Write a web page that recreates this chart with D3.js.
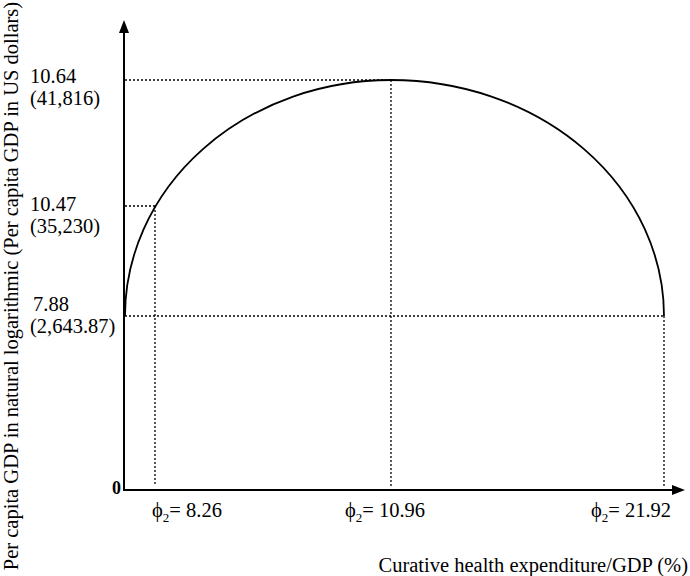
<!DOCTYPE html>
<html><head><meta charset="utf-8">
<script src="https://cdn.jsdelivr.net/npm/d3@7"></script>
<style>body{margin:0;background:#fff}svg{display:block}text{font-family:"Liberation Serif","Times New Roman",serif;fill:#000}</style>
</head><body>
<script>
// Data
const phiValues = [8.26, 10.96, 21.92];          // phi_2 thresholds on x axis
const lnGdpValues = [7.88, 10.47, 10.64];        // ln per capita GDP
const usdLabels = ["(2,643.87)", "(35,230)", "(41,816)"];
const curvePoints = [                            // key points of the curve [phi, lnGDP]
  [0, 7.88], [8.26, 10.47], [10.96, 10.64], [21.92, 7.88]
];
const xTitle = "Curative health expenditure/GDP (%)";
const yTitle = "Per capita GDP in natural logarithmic (Per capita GDP in US dollars)";

const W = 690, H = 576;
const FS = 20.5;
const svg = d3.select("body").append("svg").attr("width", W).attr("height", H);

// schematic (piecewise) scales
const x = d3.scaleLinear().domain([0, 8.26, 10.96, 21.92]).range([125, 155, 391, 664]);
const y = d3.scaleLinear().domain([0, 7.88, 10.47, 10.64]).range([490, 316, 206, 80]);
const axisX0 = 124, axisY0 = 490;

// axes
svg.append("line").attr("x1", axisX0).attr("y1", axisY0 + 1).attr("x2", axisX0).attr("y2", 30)
  .attr("stroke", "#000").attr("stroke-width", 2);
svg.append("path").attr("d", `M${axisX0},20 L${axisX0-5},33 L${axisX0+5},33 Z`).attr("fill", "#000");
svg.append("line").attr("x1", axisX0 - 1).attr("y1", axisY0).attr("x2", 675).attr("y2", axisY0)
  .attr("stroke", "#000").attr("stroke-width", 2);
svg.append("path").attr("d", `M685,${axisY0} L672,${axisY0-5} L672,${axisY0+5} Z`).attr("fill", "#000");

svg.append("text").attr("x", 121).attr("y", 494).attr("text-anchor", "end")
  .attr("font-size", 18).attr("font-weight", "bold").text("0");

// curve: two quarter-ellipse arcs through the key points
const S = [x(curvePoints[0][0]), y(curvePoints[0][1])];
const P = [x(curvePoints[2][0]), y(curvePoints[2][1])];
const E = [x(curvePoints[3][0]), y(curvePoints[3][1])];
const ry = S[1] - P[1];
svg.append("path")
  .attr("d", `M${S[0]},${S[1]} A${P[0]-S[0]},${ry} 0 0 1 ${P[0]},${P[1]} A${E[0]-P[0]},${ry} 0 0 1 ${E[0]},${E[1]}`)
  .attr("fill", "none").attr("stroke", "#000").attr("stroke-width", 1.8);

// dotted guides
const dot = sel => sel.attr("stroke", "#000").attr("stroke-width", 1.3).attr("stroke-dasharray", "2,2").attr("fill", "none");
const guides = [
  {v: lnGdpValues[0], phi: phiValues[2]},
  {v: lnGdpValues[1], phi: phiValues[0]},
  {v: lnGdpValues[2], phi: phiValues[1]}
];
guides.forEach(g => {
  svg.append("line").attr("x1", axisX0 + 1).attr("y1", y(g.v)).attr("x2", x(g.phi)).attr("y2", y(g.v)).call(dot);
  svg.append("line").attr("x1", x(g.phi)).attr("y1", y(g.v)).attr("x2", x(g.phi)).attr("y2", axisY0 - 4).call(dot);
});

// y labels
const yl = svg.append("g");
const labelBase = [311, 211, 83];
lnGdpValues.forEach((v, i) => {
  yl.append("text").attr("x", i === 0 ? 33 : 30).attr("y", labelBase[i]).attr("font-size", FS).text(v.toFixed(2));
  yl.append("text").attr("x", 30).attr("y", labelBase[i] + 22).attr("font-size", FS).text(usdLabels[i]);
});

// x labels
phiValues.forEach((p, i) => {
  const t = svg.append("text").attr("x", x(p) + [32, -6, -33][i]).attr("y", 517).attr("text-anchor", "middle").attr("font-size", FS);
  t.append("tspan").text("\u03D5");
  t.append("tspan").attr("font-size", 13).attr("dy", 5).text("2");
  t.append("tspan").attr("dy", -5).text("= " + p.toFixed(2));
});

// titles
svg.append("text").attr("x", 688).attr("y", 572).attr("text-anchor", "end").attr("font-size", FS).text(xTitle);
svg.append("text").attr("transform", "translate(18,286) rotate(-90)").attr("text-anchor", "middle")
  .attr("font-size", FS).text(yTitle);
</script>
</body></html>
